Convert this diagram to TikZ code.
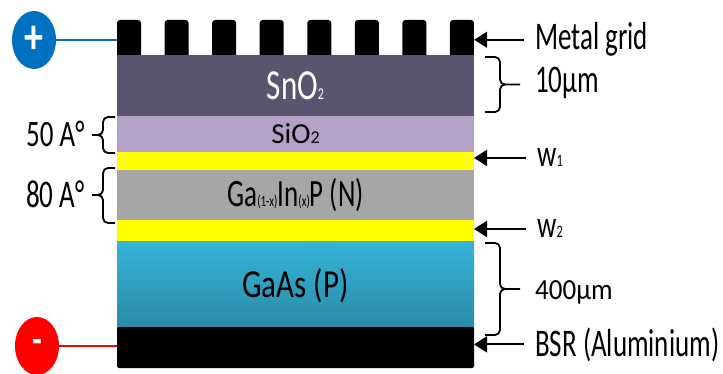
\documentclass[tikz,border=0pt]{standalone}
\usepackage{fontspec}
\setmainfont{Carlito}
\usepackage{graphicx}
\usetikzlibrary{arrows.meta, shapes.geometric}
\definecolor{snslate}{HTML}{5A556F}
\definecolor{silav}{HTML}{B3A2C7}
\definecolor{wyel}{HTML}{FFFF00}
\definecolor{gipgray}{HTML}{A6A6A6}
\definecolor{gaastop}{HTML}{36B3D8}
\definecolor{gaasbot}{HTML}{2A8AA6}
\definecolor{posblue}{HTML}{0070C0}
\definecolor{negred}{HTML}{FF0000}
\newcommand{\vstr}[2]{\scalebox{1}[#1]{#2}}
\newcommand{\fsz}[1]{\fontsize{#1}{#1}\selectfont}

\begin{document}
\begin{tikzpicture}[
    x=1pt, y=-1pt,
    >={Triangle[length=13pt, width=16pt]},
    layer/.style={rectangle, minimum width=357pt, inner sep=0pt, outer sep=0pt},
    finger/.style={rectangle, fill=black, rounded corners=3pt, minimum width=24pt,
      minimum height=38pt, inner sep=0pt},
    lbl/.style={anchor=base west, inner sep=1pt, font=\fsz{27}},
    brc/.style={line width=1.8pt, rounded corners=5pt},
    arr/.style={->, line width=1.8pt},
    pole/.style={ellipse, minimum width=44pt, minimum height=58pt, inner sep=0pt,
      text=white, font=\fsz{38}\bfseries},
  ]

  % Page
  \useasboundingbox (0,0) rectangle (723,374);

  % Metal grid fingers
  \foreach \i in {1,...,8}
    \node[finger] (f\i) at ({129+(\i-1)*47.57}, 39) {};

  % Layer stack
  \node[layer, fill=snslate, minimum height=61pt, text=white, font=\fsz{31}]
    (sno2) at (295.5,85.5) {\vstr{1.38}{SnO{\fsz{12}2}}};
  \node[layer, fill=silav, minimum height=36pt, font=\fsz{29}]
    (sio2) at (295.5,134) {\vstr{1.0}{SiO{\fsz{18}2}}};
  \node[layer, fill=wyel, minimum height=18pt] (yel1) at (295.5,161) {};
  \node[layer, fill=gipgray, minimum height=50pt, font=\fsz{27}]
    (gainp) at (295.5,195) {\vstr{1.43}{Ga{\fsz{11}(1-x)}In{\fsz{11}(x)}P (N)}};
  \node[layer, fill=wyel, minimum height=22pt] (yel2) at (295.5,231) {};
  \node[layer, top color=gaastop, bottom color=gaasbot, minimum height=87pt, font=\fsz{31}]
    (gaas) at (295.5,285.5) {\vstr{1.28}{GaAs (P)}};
  \node[layer, fill=black, rounded corners=2pt, minimum height=41pt]
    (bsr) at (295.5,347.5) {};

  % Terminals
  \node[pole, fill=posblue] (pos) at (34,40) {\vstr{1.3}{+}};
  \node[pole, fill=negred, font=\fsz{32}\bfseries] (neg) at (37,346)
    {\vstr{1.3}{\raisebox{-0.25em}{-}}};
  \draw[posblue, line width=1.5pt] (pos.east) -- (pos.east -| f1.west);
  \draw[negred, line width=1.5pt] (neg.east) -- (neg.east -| bsr.west);

  % Labels on the right
  \node[lbl] (metal) at (534,50) {\vstr{1.45}{Metal grid}};
  \node[lbl] (ten) at (534,93) {\vstr{1.45}{10µm}};
  \node[lbl] (w1) at (536,167) {\vstr{1.4}{w{\fsz{12.5}1}}};
  \node[lbl] (w2) at (536,238) {\vstr{1.4}{w{\fsz{12.5}2}}};
  \node[lbl] (four) at (534,299) {\vstr{1.08}{400µm}};
  \node[lbl] (bsrlbl) at (534,356) {\vstr{1.45}{BSR (Aluminium)}};

  % Labels on the left
  \node[lbl] (fifty) at (25,147) {\vstr{1.38}{50 A°}};
  \node[lbl] (eighty) at (25,208) {\vstr{1.45}{80 A°}};

  % Arrows
  \draw[arr] ([xshift=-10pt]metal.west) -- (metal.west -| f8.east);
  \draw[arr] ([xshift=-10pt]w1.west) -- (w1.west -| yel1.east);
  \draw[arr] ([xshift=-10pt]w2.west) -- (w2.west -| yel2.east);
  \draw[arr] ([xshift=-10pt]bsrlbl.west) -- (bsrlbl.west -| bsr.east);

  % Braces
  \draw[brc] (485,57) -- (500,57) -- (500,84.5) -- (520,84.5)
             (485,112) -- (500,112) -- (500,84.5) -- (520,84.5);
  \draw[brc] (485,243) -- (500,243) -- (500,289) -- (520,289)
             (485,335) -- (500,335) -- (500,289) -- (520,289);
  \draw[brc] (115,117) -- (103,117) -- (103,135) -- (92,135)
             (115,153) -- (103,153) -- (103,135) -- (92,135);
  \draw[brc] (115,168) -- (103,168) -- (103,195) -- (92,195)
             (115,223) -- (103,223) -- (103,195) -- (92,195);

\end{tikzpicture}
\end{document}
